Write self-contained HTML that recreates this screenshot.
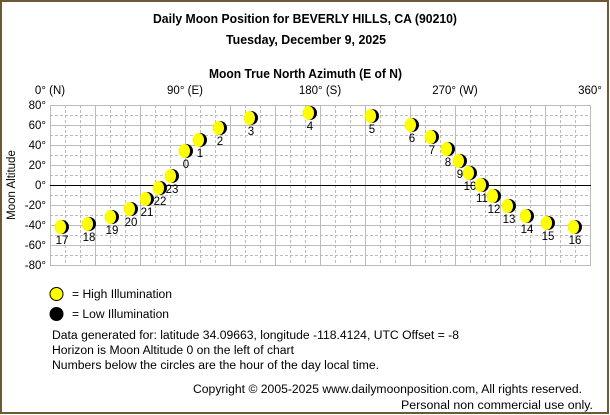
<!DOCTYPE html>
<html><head><meta charset="utf-8"><style>
html,body{margin:0;padding:0;background:#fff}
svg{display:block}
text{font-family:"Liberation Sans",sans-serif;fill:#000}
</style></head><body>
<svg width="610" height="415" xmlns="http://www.w3.org/2000/svg">
<rect x="1" y="1" width="607" height="412" fill="#fff" stroke="#6b5a35" stroke-width="2"/>
<text x="153" y="23" font-size="13" font-weight="bold" textLength="304" lengthAdjust="spacingAndGlyphs">Daily Moon Position for BEVERLY HILLS, CA (90210)</text>
<text x="226" y="44" font-size="13" font-weight="bold" textLength="160" lengthAdjust="spacingAndGlyphs">Tuesday, December 9, 2025</text>
<text x="209" y="78" font-size="13" font-weight="bold" textLength="193" lengthAdjust="spacingAndGlyphs">Moon True North Azimuth (E of N)</text>
<g font-size="11.5" text-anchor="middle">
<text x="50" y="94">0° (N)</text><text x="185" y="94">90° (E)</text><text x="320" y="94">180° (S)</text><text x="455" y="94">270° (W)</text><text x="590" y="94">360°</text>
</g>
<g id="grid"></g>
<g font-size="11.5" text-anchor="end">
<text x="46" y="109">80°</text><text x="46" y="129">60°</text><text x="46" y="149">40°</text><text x="46" y="169">20°</text><text x="46" y="189">0°</text><text x="46" y="209">-20°</text><text x="46" y="229">-40°</text><text x="46" y="249">-60°</text><text x="46" y="269">-80°</text>
</g>
<text transform="translate(15,185) rotate(-90)" font-size="11.5" text-anchor="middle">Moon Altitude</text>
<g id="moons"></g>
<circle cx="56.5" cy="294" r="6.5" fill="#ff0" stroke="#000"/>
<text x="72" y="298" font-size="11.5" textLength="100" lengthAdjust="spacingAndGlyphs">= High Illumination</text>
<circle cx="56.5" cy="314" r="6.5" fill="#000" stroke="#000"/>
<text x="72" y="318" font-size="11.5" textLength="97" lengthAdjust="spacingAndGlyphs">= Low Illumination</text>
<g font-size="11.5">
<text x="52" y="339" textLength="407" lengthAdjust="spacingAndGlyphs">Data generated for: latitude 34.09663, longitude -118.4124, UTC Offset = -8</text>
<text x="52" y="354" textLength="242" lengthAdjust="spacingAndGlyphs">Horizon is Moon Altitude 0 on the left of chart</text>
<text x="52" y="369" textLength="327" lengthAdjust="spacingAndGlyphs">Numbers below the circles are the hour of the day local time.</text>
<text x="193" y="393" textLength="389" lengthAdjust="spacingAndGlyphs">Copyright © 2005-2025 www.dailymoonposition.com, All rights reserved.</text>
<text x="401" y="409" textLength="192" lengthAdjust="spacingAndGlyphs">Personal non commercial use only.</text>
</g>
</svg>
<script>
const ns="http://www.w3.org/2000/svg";
const g=document.getElementById("grid");
function ln(x1,y1,x2,y2,c,d,w){const l=document.createElementNS(ns,"line");l.setAttribute("x1",x1);l.setAttribute("y1",y1);l.setAttribute("x2",x2);l.setAttribute("y2",y2);l.setAttribute("stroke",c);l.setAttribute("stroke-width",w||1);if(d)l.setAttribute("stroke-dasharray",d);g.appendChild(l);}
for(let i=0;i<=36;i++){const x=50.5+i*15;ln(x,105,x,265,"#bbb",i%3==0?null:"3,2");}
for(let j=0;j<=16;j++){const y=105.5+j*10;ln(50,y,591,y,"#bbb",j%2==0?null:"3,2");}
ln(50,185.5,591,185.5,"#000");
const m=[[17,62,227],[18,89,224],[19,112,217],[20,131,209],[21,147,199],[22,160,188],[23,172,176],[0,186,151],[1,200,140],[2,220,128],[3,251,118],[4,310,113],[5,372,116],[6,412,125],[7,432,137],[8,448,149],[9,460,161],[10,470,173],[11,482,185],[12,494,196],[13,509,206],[14,527,216],[15,548,223],[16,575,227]];
const mg=document.getElementById("moons");
let h="";
for(const [n,x,y] of m){
h+=`<circle cx="${x}" cy="${y}" r="7" fill="#000"/><ellipse cx="${x-1.5}" cy="${y}" rx="5.5" ry="7" fill="#ff0"/><text x="${x}" y="${y+17}" font-size="11.5" text-anchor="middle">${n}</text>`;
}
mg.innerHTML=h;
</script>
</body></html>
